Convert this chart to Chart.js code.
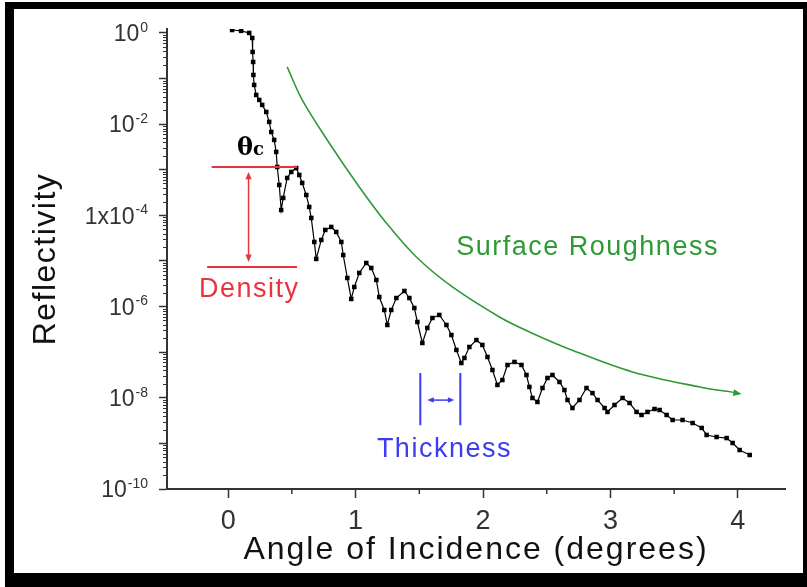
<!DOCTYPE html>
<html>
<head>
<meta charset="utf-8">
<script src="https://cdn.jsdelivr.net/npm/chart.js@4/dist/chart.umd.min.js"></script>
<style>
  html, body { margin: 0; padding: 0; background: #fff; }
  #frame {
    position: absolute; left: 5px; top: 2px; width: 802px; height: 585px;
    box-sizing: border-box; border-style: solid; border-color: #000;
    border-width: 7px 4px 14px 9px;
  }
  #chart { position: absolute; left: 0; top: 0; }
</style>
</head>
<body>
<div id="frame"></div>
<canvas id="chart" width="807" height="587"></canvas>
<script>
// measured reflectivity curve
const angle = [0.031,0.102,0.165,0.189,0.192,0.196,0.198,0.204,0.220,0.244,
  0.267,0.299,0.322,0.338,0.361,0.377,0.385,0.401,0.416,0.432,
  0.463,0.495,0.534,0.558,0.581,0.613,0.636,0.652,0.676,0.691,
  0.731,0.762,0.809,0.848,0.888,0.903,0.935,0.966,0.990,1.029,
  1.084,1.123,1.163,1.186,1.225,1.249,1.280,1.320,1.383,1.422,
  1.461,1.485,1.524,1.563,1.603,1.657,1.713,1.752,1.791,1.830,
  1.854,1.893,1.948,1.995,2.035,2.074,2.113,2.152,2.192,2.247,
  2.302,2.341,2.364,2.388,2.427,2.467,2.506,2.545,2.600,2.639,
  2.663,2.702,2.757,2.812,2.859,2.899,2.954,2.977,3.032,3.095,
  3.150,3.205,3.244,3.291,3.346,3.386,3.441,3.488,3.566,3.645,
  3.716,3.755,3.833,3.912,3.959,4.014,4.093];
const reflectivity = [1.16,1.11,1.0,0.776,0.383,0.231,0.120,0.0724,0.0437,0.0340,
  0.0264,0.0185,0.0112,6.75e-3,4.51e-3,2.46e-3,1.15e-3,4.64e-4,1.31e-4,2.41e-4,
  6.61e-4,8.95e-4,1.09e-3,7.69e-4,5.14e-4,2.80e-4,1.53e-4,8.77e-5,2.61e-5,1.11e-5,
  2.89e-5,4.79e-5,5.57e-5,4.33e-5,2.61e-5,1.35e-5,4.24e-6,1.47e-6,2.69e-6,5.46e-6,
  9.04e-6,7.02e-6,3.83e-6,1.62e-6,8.42e-7,3.95e-7,8.42e-7,1.54e-6,2.20e-6,1.54e-6,
  9.31e-7,4.59e-7,1.59e-7,3.40e-7,5.62e-7,6.55e-7,3.95e-7,2.38e-7,1.12e-7,5.79e-8,
  7.46e-8,1.30e-7,1.85e-7,1.44e-7,7.85e-8,4.07e-8,1.91e-8,2.45e-8,5.24e-8,6.10e-8,
  5.24e-8,3.16e-8,1.73e-8,9.9e-9,8.09e-9,1.64e-8,2.72e-8,3.16e-8,2.22e-8,1.48e-8,
  8.95e-9,5.97e-9,8.95e-9,1.64e-8,1.27e-8,8.95e-9,5.97e-9,4.89e-9,6.95e-9,9.9e-9,
  7.69e-9,4.89e-9,4.20e-9,4.89e-9,5.68e-9,5.40e-9,4.20e-9,3.26e-9,3.26e-9,2.80e-9,
  2.18e-9,1.53e-9,1.38e-9,1.31e-9,1.02e-9,7.16e-10,5.57e-10];

// surface roughness envelope
const roughAngle = [0.463,0.581,0.793,1.029,1.241,1.477,1.760,2.129,2.365,2.655,3.174,3.700,3.998];
const roughRefl = [0.180,0.0340,3.87e-3,4.20e-4,6.81e-5,1.22e-5,2.69e-6,5.92e-7,2.77e-7,1.24e-7,3.68e-8,1.73e-8,1.27e-8];

// axes
const xTicks = [0, 0.5, 1, 1.5, 2, 2.5, 3, 3.5, 4];
const yTicks = [1, 1e-1, 1e-2, 1e-3, 1e-4, 1e-5, 1e-6, 1e-7, 1e-8, 1e-9, 1e-10];
const yTickBase = ['10', '', '10', '', '1x10', '', '10', '', '10', '', '10'];
const yTickExp = ['0', '', '-2', '', '-4', '', '-6', '', '-8', '', '-10'];

// annotation anchors in data units
const densityTop = 1.15e-3, densityBottom = 7.4e-6;
const thickLeft = 1.508, thickRight = 1.822;

const FONT = '"Liberation Sans", Arial, sans-serif';
const pts = (xs, ys) => xs.map((v, i) => ({x: v, y: ys[i]}));

function arrowHead(ctx, x0, y0, x1, y1, size) {
    const a = Math.atan2(y1 - y0, x1 - x0);
    ctx.beginPath();
    ctx.moveTo(x1, y1);
    ctx.lineTo(x1 - size * Math.cos(a - 0.4), y1 - size * Math.sin(a - 0.4));
    ctx.lineTo(x1 - size * Math.cos(a + 0.4), y1 - size * Math.sin(a + 0.4));
    ctx.closePath();
    ctx.fill();
}

const decor = {
    id: 'decor',
    afterDraw(chart) {
        const {ctx, chartArea} = chart;
        const x = chart.scales.x, y = chart.scales.y;
        const px = v => x.getPixelForValue(v);
        const py = v => y.getPixelForValue(v);
        ctx.save();

        // minor ticks
        ctx.strokeStyle = '#333';
        ctx.lineWidth = 1;
        for (let e = -10; e < 0; e++) {
            for (let m = 2; m <= 9; m++) {
                const yy = Math.round(py(m * Math.pow(10, e))) + 0.5;
                ctx.beginPath(); ctx.moveTo(chartArea.left - 4, yy); ctx.lineTo(chartArea.left, yy); ctx.stroke();
            }
        }
        ctx.lineWidth = 1.5;
        [0.5, 1.5, 2.5, 3.5].forEach(v => {
            const xx = px(v);
            ctx.beginPath(); ctx.moveTo(xx, chartArea.bottom); ctx.lineTo(xx, chartArea.bottom + 5); ctx.stroke();
        });

        // y tick labels with superscript exponents
        ctx.fillStyle = '#333';
        ctx.textAlign = 'right';
        ctx.textBaseline = 'middle';
        const right = chartArea.left - 19;
        yTicks.forEach((v, i) => {
            if (!yTickBase[i]) return;
            const yy = py(v);
            ctx.font = '14px ' + FONT;
            const ew = ctx.measureText(yTickExp[i]).width;
            ctx.fillText(yTickExp[i], right, yy - 5);
            ctx.font = '23px ' + FONT;
            ctx.fillText(yTickBase[i], right - ew - 1, yy + 2);
        });

        // green arrow at the end of the roughness curve
        const n = roughAngle.length;
        ctx.fillStyle = '#2f9a35';
        arrowHead(ctx, px(roughAngle[n - 2]), py(roughRefl[n - 2]), px(roughAngle[n - 1]) + 4, py(roughRefl[n - 1]) + 1, 9);

        // density markers
        ctx.strokeStyle = '#e8343c';
        ctx.fillStyle = '#e8343c';
        ctx.lineWidth = 2;
        ctx.beginPath();
        ctx.moveTo(px(-0.13), py(densityTop)); ctx.lineTo(px(0.54), py(densityTop));
        ctx.moveTo(px(-0.165), py(densityBottom)); ctx.lineTo(px(0.54), py(densityBottom));
        ctx.stroke();
        const ax = px(0.16);
        const a0 = py(densityTop) + 5, a1 = py(densityBottom) - 5;
        ctx.lineWidth = 1.5;
        ctx.beginPath(); ctx.moveTo(ax, a0 + 6); ctx.lineTo(ax, a1 - 6); ctx.stroke();
        arrowHead(ctx, ax, a1, ax, a0, 8);
        arrowHead(ctx, ax, a0, ax, a1, 8);

        // thickness markers
        ctx.strokeStyle = '#3c3cf0';
        ctx.fillStyle = '#3c3cf0';
        ctx.lineWidth = 2;
        ctx.beginPath();
        ctx.moveTo(px(thickLeft), py(3.5e-8)); ctx.lineTo(px(thickLeft), py(2.5e-9));
        ctx.moveTo(px(thickRight), py(3.5e-8)); ctx.lineTo(px(thickRight), py(2.5e-9));
        ctx.stroke();
        const ty = py(8.9e-9);
        const t0 = px(1.563), t1 = px(1.775);
        ctx.lineWidth = 1.5;
        ctx.beginPath(); ctx.moveTo(t0 + 4, ty); ctx.lineTo(t1 - 4, ty); ctx.stroke();
        arrowHead(ctx, t1, ty, t0, ty, 7);
        arrowHead(ctx, t0, ty, t1, ty, 7);

        // labels
        ctx.letterSpacing = '1.5px';
        ctx.font = '27px ' + FONT;
        ctx.textBaseline = 'alphabetic';
        ctx.textAlign = 'center';
        ctx.fillStyle = '#e8343c';
        ctx.fillText('Density', px(0.165), py(1.62e-6));
        ctx.fillStyle = '#3c3cf0';
        ctx.fillText('Thickness', px(1.697), py(5.0e-10));
        ctx.textAlign = 'left';
        ctx.fillStyle = '#2f9a35';
        ctx.fillText('Surface Roughness', px(1.79), py(1.35e-5));

        ctx.letterSpacing = '0px';
        ctx.fillStyle = '#000';
        ctx.font = 'bold 24px "DejaVu Serif", "Liberation Serif", serif';
        const thX = px(0.07), thY = py(2.11e-3);
        ctx.fillText('\u03B8', thX, thY);
        const w = ctx.measureText('\u03B8').width;
        ctx.font = 'bold 18px "DejaVu Serif", "Liberation Serif", serif';
        ctx.fillText('c', thX + w, thY);

        // axis titles, centred on their axes
        ctx.fillStyle = '#111';
        ctx.letterSpacing = '2px';
        ctx.font = '32px ' + FONT;
        ctx.textAlign = 'center';
        ctx.textBaseline = 'middle';
        ctx.fillText('Angle of Incidence (degrees)', (chartArea.left + chartArea.right) / 2, 550);
        ctx.letterSpacing = '1.5px';
        ctx.translate(46, (chartArea.top + chartArea.bottom) / 2);
        ctx.rotate(-Math.PI / 2);
        ctx.fillText('Reflectivity', 0, 0);
        ctx.restore();
    }
};

new Chart(document.getElementById('chart'), {
    type: 'scatter',
    data: {
        datasets: [{
            label: 'Reflectivity',
            data: pts(angle, reflectivity),
            showLine: true,
            borderColor: '#000',
            borderWidth: 1.2,
            backgroundColor: '#000',
            pointStyle: 'rect',
            pointRadius: 3.2,
            pointBorderWidth: 0
        },
        {
            label: 'Surface Roughness',
            data: pts(roughAngle, roughRefl),
            showLine: true,
            borderColor: '#2f9a35',
            borderWidth: 1.6,
            pointRadius: 0,
            tension: 0.35
        }]
    },
    options: {
        responsive: false,
        animation: false,
        layout: { padding: { top: 29, right: 22, left: 0, bottom: 0 } },
        plugins: { legend: { display: false }, tooltip: { enabled: false } },
        scales: {
            x: {
                type: 'linear',
                min: -0.48,
                max: 4.37,
                afterBuildTicks: s => { s.ticks = xTicks.map(v => ({value: v})); },
                afterFit: s => { s.height = 98; },
                ticks: {
                    callback: v => Number.isInteger(v) ? String(v) : '',
                    font: { size: 27, family: FONT },
                    color: '#333',
                    padding: 7,
                    maxRotation: 0
                },
                grid: {
                    drawOnChartArea: false,
                    tickLength: 9,
                    tickColor: ctx => Number.isInteger(ctx.tick.value) ? '#333' : 'rgba(0,0,0,0)',
                    tickWidth: 1.5
                },
                border: { color: '#333', width: 2 }
            },
            y: {
                type: 'logarithmic',
                min: 1e-10,
                max: 1.22,
                afterBuildTicks: s => { s.ticks = yTicks.map(v => ({value: v, major: true})); },
                afterFit: s => { s.width = 167; },
                ticks: { callback: () => '' },
                grid: {
                    drawOnChartArea: false,
                    tickLength: 8,
                    tickColor: '#333',
                    tickWidth: 1.5
                },
                border: { color: '#333', width: 2 }
            }
        }
    },
    plugins: [decor]
});
</script>
</body>
</html>
